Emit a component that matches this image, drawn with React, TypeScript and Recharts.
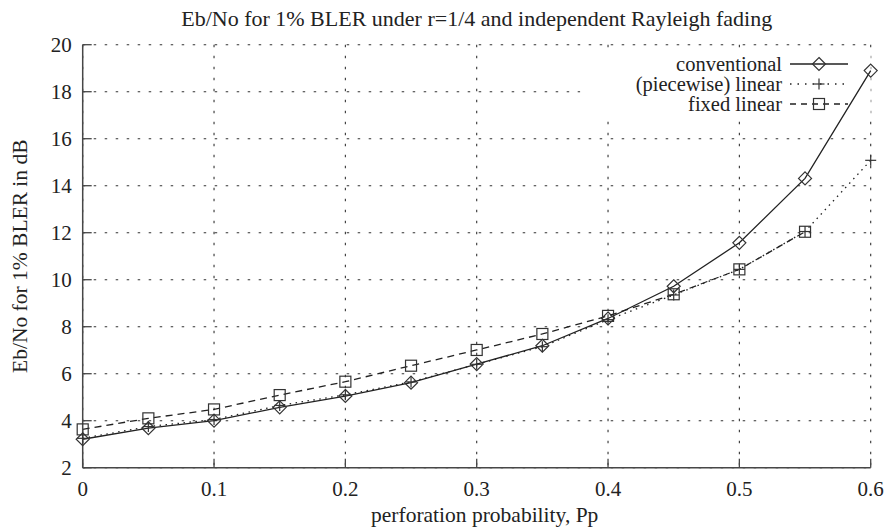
import React from 'react';
import { LineChart, Line, XAxis, YAxis, CartesianGrid, ReferenceArea, Legend } from 'recharts';

// Perforation probability Pp (x) and required Eb/No in dB (y) per scheme
const perforation = [0, 0.05, 0.1, 0.15, 0.2, 0.25, 0.3, 0.35, 0.4, 0.45, 0.5, 0.55, 0.6];
const conventional = [3.21, 3.68, 4.0, 4.57, 5.05, 5.62, 6.41, 7.19, 8.35, 9.72, 11.57, 14.31, 18.9];
const piecewiseLinear = [3.25, 3.75, 4.05, 4.65, 5.1, 5.65, 6.4, 7.15, 8.3, 9.35, 10.44, 12.05, 15.08];
const fixedLinear = [3.63, 4.1, 4.48, 5.09, 5.66, 6.34, 7.01, 7.69, 8.46, 9.38, 10.44, 12.04, null];

const xTicks = [0, 0.1, 0.2, 0.3, 0.4, 0.5, 0.6];
const yTicks = [2, 4, 6, 8, 10, 12, 14, 16, 18, 20];

const titleText = 'Eb/No for 1% BLER under r=1/4 and independent Rayleigh fading';
const xLabelText = 'perforation probability, Pp';
const yLabelText = 'Eb/No for 1% BLER in dB';

const data = perforation.map((p, i) => ({
  p,
  conventional: conventional[i],
  piecewise: piecewiseLinear[i],
  fixed: fixedLinear[i],
}));

const FONT = '"Liberation Serif", "Times New Roman", serif';
const TICK_FS = 21;
const TEXT_FS = 21.5;
const KEY_FS = 20.5;
const TITLE_FS = 22;
const INK = '#222';
const FRAME = '#474747';
const MARK = '#333';
const TICK_LEN = 9;

type MarkerKind = 'diamond' | 'plus' | 'square';

const series: { key: string; name: string; dash?: string; legendDash?: string; marker: MarkerKind }[] = [
  { key: 'conventional', name: 'conventional', marker: 'diamond' },
  { key: 'piecewise', name: '(piecewise) linear', dash: '1.5 4.5', legendDash: '1.5 6', marker: 'plus' },
  { key: 'fixed', name: 'fixed linear', dash: '7 5', legendDash: '6 5', marker: 'square' },
];

function Marker({ kind, cx, cy }: { kind: MarkerKind; cx: number; cy: number }) {
  if (kind === 'diamond') {
    const r = 6.5;
    return (
      <path
        d={`M${cx},${cy - r}L${cx + r},${cy}L${cx},${cy + r}L${cx - r},${cy}Z`}
        fill="none"
        stroke={MARK}
        strokeWidth={1.2}
      />
    );
  }
  if (kind === 'square') {
    const h = 5.5;
    return <rect x={cx - h} y={cy - h} width={2 * h} height={2 * h} fill="none" stroke={MARK} strokeWidth={1.2} />;
  }
  const a = 5.5;
  return (
    <g stroke={MARK} strokeWidth={1.2}>
      <line x1={cx - a} y1={cy} x2={cx + a} y2={cy} />
      <line x1={cx} y1={cy - a} x2={cx} y2={cy + a} />
    </g>
  );
}

const makeDot = (kind: MarkerKind) => (props: any) => {
  const { cx, cy, index } = props;
  if (cx == null || cy == null || props.value == null) return <g key={`e-${index}`} />;
  return (
    <g key={`m-${kind}-${index}`}>
      <Marker kind={kind} cx={cx} cy={cy} />
    </g>
  );
};

const tickStyle = { fontFamily: FONT, fontSize: TICK_FS, fill: INK } as const;
const textStyle = { fontFamily: FONT, fontSize: TEXT_FS, fill: INK } as const;
const keyStyle = { fontFamily: FONT, fontSize: KEY_FS, fill: INK } as const;

const BottomTick = ({ x, y, payload }: any) => (
  <g>
    <line x1={x} y1={y} x2={x} y2={y - TICK_LEN} stroke={FRAME} strokeWidth={1.3} />
    <text x={x} y={y + 28} textAnchor="middle" style={tickStyle}>
      {String(payload.value)}
    </text>
  </g>
);

const TopTick = ({ x, y }: any) => (
  <line x1={x} y1={y} x2={x} y2={y + TICK_LEN} stroke={FRAME} strokeWidth={1.3} />
);

const LeftTick = ({ x, y, payload }: any) => (
  <g>
    <line x1={x} y1={y} x2={x + TICK_LEN} y2={y} stroke={FRAME} strokeWidth={1.3} />
    <text x={x - 11} y={y + 7} textAnchor="end" style={tickStyle}>
      {String(payload.value)}
    </text>
  </g>
);

const RightTick = ({ x, y }: any) => (
  <line x1={x} y1={y} x2={x - TICK_LEN} y2={y} stroke={FRAME} strokeWidth={1.3} />
);

const XTitle = ({ viewBox }: any) => (
  <text
    x={viewBox.x + viewBox.width / 2 + 8}
    y={viewBox.y + viewBox.height - 7.3}
    textAnchor="middle"
    style={textStyle}
  >
    {xLabelText}
  </text>
);

const YTitle = ({ viewBox }: any) => {
  const cx = viewBox.x + 20;
  const cy = viewBox.y + viewBox.height / 2;
  return (
    <text
      x={cx}
      y={cy}
      transform={`rotate(-90, ${cx}, ${cy})`}
      textAnchor="middle"
      dominantBaseline="central"
      style={textStyle}
    >
      {yLabelText}
    </text>
  );
};

const KeyBox = () => (
  <svg width={290} height={66} style={{ display: 'block', overflow: 'visible' }}>
    {series.map((s, i) => {
      const base = 20.5 + i * 20;
      const my = base - 6.5;
      return (
        <g key={s.key}>
          <text x={202} y={base} textAnchor="end" style={keyStyle}>
            {s.name}
          </text>
          <line x1={210} y1={my} x2={268} y2={my} stroke={INK} strokeWidth={1.3} strokeDasharray={s.legendDash} />
          <Marker kind={s.marker} cx={239} cy={my} />
        </g>
      );
    })}
  </svg>
);

export default function App() {
  return (
    <div style={{ position: 'absolute', left: 0, top: 0, width: 888, height: 529, background: '#fff' }}>
      <div
        style={{
          position: 'absolute',
          left: 82.7,
          top: 8.3,
          width: 788,
          textAlign: 'center',
          fontFamily: FONT,
          fontSize: TITLE_FS,
          lineHeight: `${TITLE_FS}px`,
          color: INK,
          whiteSpace: 'nowrap',
        }}
      >
        {titleText}
      </div>
      <LineChart
        width={888}
        height={529}
        data={data}
        margin={{ top: 44.7, right: 17.3, bottom: 0, left: 0 }}
      >
        <CartesianGrid
          stroke="#333"
          strokeWidth={1.1}
          strokeDasharray="2.5 8.5"
          horizontalValues={yTicks}
          verticalValues={xTicks}
        />
        <ReferenceArea
          x1={0.379}
          x2={0.6}
          y1={16.95}
          y2={19.6}
          fill="#fff"
          fillOpacity={1}
          stroke="none"
          ifOverflow="visible"
        />
        <XAxis
          dataKey="p"
          type="number"
          domain={[0, 0.6]}
          ticks={xTicks}
          interval={0}
          height={61.3}
          tickSize={0}
          tickMargin={0}
          tickLine={false}
          axisLine={{ stroke: FRAME, strokeWidth: 1.5 }}
          tick={<BottomTick />}
          label={<XTitle />}
        />
        <XAxis
          xAxisId="top"
          orientation="top"
          dataKey="p"
          type="number"
          domain={[0, 0.6]}
          ticks={xTicks}
          interval={0}
          height={0}
          tickSize={0}
          tickMargin={0}
          tickLine={false}
          axisLine={{ stroke: FRAME, strokeWidth: 1.5 }}
          tick={<TopTick />}
        />
        <YAxis
          type="number"
          domain={[2, 20]}
          ticks={yTicks}
          interval={0}
          width={82.7}
          tickSize={0}
          tickMargin={0}
          tickLine={false}
          axisLine={{ stroke: FRAME, strokeWidth: 1.5 }}
          tick={<LeftTick />}
          label={<YTitle />}
        />
        <YAxis
          yAxisId="right"
          orientation="right"
          type="number"
          domain={[2, 20]}
          ticks={yTicks}
          interval={0}
          width={0}
          tickSize={0}
          tickMargin={0}
          tickLine={false}
          axisLine={{ stroke: FRAME, strokeWidth: 1.5 }}
          tick={<RightTick />}
        />
        <Legend
          layout="horizontal"
          verticalAlign="middle"
          align="center"
          content={<KeyBox />}
          wrapperStyle={{ position: 'absolute', left: 580, top: 50, width: 290, height: 66 }}
        />
        {series.map((s) => (
          <Line
            key={s.key}
            dataKey={s.key}
            name={s.name}
            type="linear"
            stroke={INK}
            strokeWidth={1.3}
            strokeDasharray={s.dash}
            dot={makeDot(s.marker)}
            activeDot={false}
            isAnimationActive={false}
            connectNulls={false}
          />
        ))}
      </LineChart>
    </div>
  );
}
